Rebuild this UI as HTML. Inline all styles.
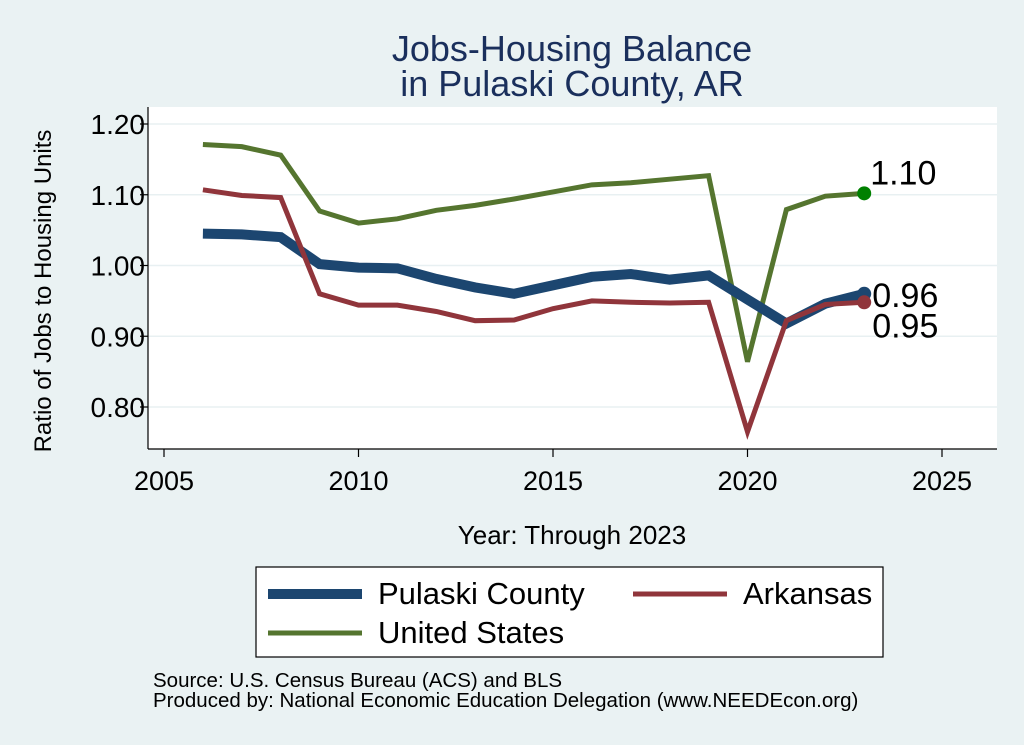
<!DOCTYPE html>
<html><head><meta charset="utf-8"><style>
html,body{margin:0;padding:0;background:#eaf2f3;}
svg{display:block;font-family:"Liberation Sans",Arial,sans-serif;}
</style></head><body>
<svg id="chart" width="1024" height="745">
<rect x="0" y="0" width="1024" height="745" fill="#eaf2f3"/>
<text x="572" y="61" font-size="36" fill="#1a2f5c" text-anchor="middle">Jobs-Housing Balance</text>
<text x="572" y="96" font-size="36" fill="#1a2f5c" text-anchor="middle">in Pulaski County, AR</text>
<rect x="148" y="107" width="849" height="342" fill="#fff"/>
<g id="grid"></g>
<g id="series"></g>
<g id="axes"></g>
<text x="51" y="291" font-size="24" fill="#000" text-anchor="middle" transform="rotate(-90 51 291)">Ratio of Jobs to Housing Units</text>
<text x="572" y="544" font-size="26" fill="#000" text-anchor="middle">Year: Through 2023</text>
<g>
<rect x="256" y="567" width="627" height="90" fill="#fff" stroke="#000" stroke-width="1.2"/>
<line x1="268" y1="594" x2="362" y2="594" stroke="#1c4670" stroke-width="10"/>
<text x="378" y="604" font-size="31">Pulaski County</text>
<line x1="633" y1="594" x2="727" y2="594" stroke="#90353b" stroke-width="5"/>
<text x="743" y="604" font-size="31">Arkansas</text>
<line x1="268" y1="633" x2="362" y2="633" stroke="#55752f" stroke-width="5"/>
<text x="378" y="643" font-size="31">United States</text>
</g>
<text x="153" y="687" font-size="20.5">Source: U.S. Census Bureau (ACS) and BLS</text>
<text x="153" y="707" font-size="20.5">Produced by: National Economic Education Delegation (www.NEEDEcon.org)</text>
</svg>
<script>
const years = [2006,2007,2008,2009,2010,2011,2012,2013,2014,2015,2016,2017,2018,2019,2020,2021,2022,2023];
const pulaski = [1.045,1.044,1.040,1.002,0.997,0.996,0.981,0.969,0.960,0.972,0.984,0.988,0.980,0.986,0.952,0.918,0.946,0.960];
const arkansas = [1.107,1.099,1.096,0.960,0.944,0.944,0.935,0.922,0.923,0.939,0.950,0.948,0.947,0.948,0.765,0.922,0.945,0.948];
const unitedStates = [1.171,1.168,1.156,1.077,1.060,1.066,1.078,1.085,1.094,1.104,1.114,1.117,1.122,1.127,0.864,1.079,1.098,1.102];
const xTicks = [2005,2010,2015,2020,2025];
const yTicks = [0.8,0.9,1.0,1.1,1.2];
const yTickLabels = ["0.80","0.90","1.00","1.10","1.20"];

const NS="http://www.w3.org/2000/svg";
function X(v){return 164+(v-2005)*38.9;}
function Y(v){return 407-(v-0.8)*707.5;}
function mk(tag,attrs,parent){const e=document.createElementNS(NS,tag);for(const k in attrs)e.setAttribute(k,attrs[k]);parent.appendChild(e);return e;}
const grid=document.getElementById('grid'),axes=document.getElementById('axes'),ser=document.getElementById('series');
yTicks.forEach((t,i)=>{
  const g=mk('line',{x1:148,x2:997,y1:Y(t),y2:Y(t),stroke:'#e8f0f2','stroke-width':1.5},grid);
  
  
  const tk=mk('line',{x1:140,x2:148,y1:Y(t),y2:Y(t),stroke:'#000','stroke-width':1.2},axes);
  
  
  const tx=mk('text',{x:145,y:Y(t)+10,'font-size':28,'text-anchor':'end'},axes);
  tx.textContent=yTickLabels[i];
  
  
});
xTicks.forEach(t=>{
  const tk=mk('line',{x1:X(t),x2:X(t),y1:449,y2:457,stroke:'#000','stroke-width':1.2},axes);
  
  
  const tx=mk('text',{x:X(t),y:490,'font-size':27,'text-anchor':'middle'},axes);
  tx.textContent=t;
  
  
});
const ax1=mk('line',{x1:148,x2:148,y1:107,y2:449,stroke:'#000','stroke-width':1.2},axes);


const ax2=mk('line',{x1:148,x2:997,y1:449,y2:449,stroke:'#000','stroke-width':1.2},axes);



function drawSeries(vals,color,w,name,dotColor,label,ly){
  const pts=vals.map((v,i)=>X(years[i])+','+Y(v)).join(' ');
  const p=mk('polyline',{points:pts,fill:'none',stroke:color,'stroke-width':w,'stroke-linejoin':'miter'},ser);
  
  
  const n=vals.length-1;
  const c=mk('circle',{cx:X(years[n]),cy:Y(vals[n]),r:7,fill:dotColor},ser);
  
  
  const t=mk('text',{x:X(years[n])+(name==='united-states'?6:8),y:Y(vals[n])+ly,'font-size':34},ser);
  t.textContent=label;
  
  
}
drawSeries(unitedStates,'#55752f',5,'united-states','#008000',unitedStates[unitedStates.length-1].toFixed(2),-9);
drawSeries(pulaski,'#1c4670',10,'pulaski','#1c4670',pulaski[pulaski.length-1].toFixed(2),13);
drawSeries(arkansas,'#90353b',5,'arkansas','#90353b',arkansas[arkansas.length-1].toFixed(2),35);
</script>
</body></html>
